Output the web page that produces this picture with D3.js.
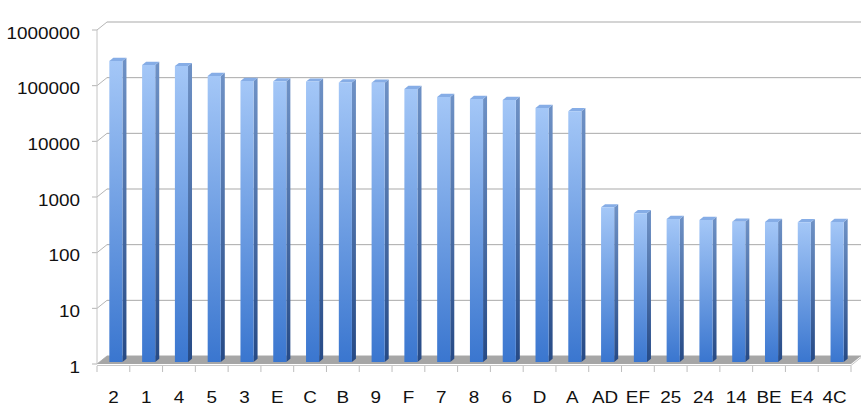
<!DOCTYPE html>
<html>
<head>
<meta charset="utf-8">
<script src="https://cdn.jsdelivr.net/npm/d3@7"></script>
<style>
  body { margin: 0; background: #fff; }
  text { font-family: "Liberation Sans", Arial, sans-serif; fill: #111; }
</style>
</head>
<body>
<svg id="chart" width="867" height="414"></svg>
<script>
// data
const categories = ["2","1","4","5","3","E","C","B","9","F","7","8","6","D","A","AD","EF","25","24","14","BE","E4","4C"];
const values = [255000, 216000, 207000, 137000, 112000, 110000, 109000, 105000, 104000, 80000, 57500, 53000, 51000, 36500, 32000, 600, 470, 370, 355, 330, 328, 325, 328];
const tickValues = [1, 10, 100, 1000, 10000, 100000, 1000000];

const svg = d3.select('#chart');

// depth of the 3d box
const depthX = 10, depthY = 8;
const proj = (x, y, z) => [x + z * depthX, y - z * depthY];

const x = d3.scaleBand().domain(categories).range([97, 851]);
const y = d3.scaleLog().domain([1, 1000000]).range([364, 30]);

const defs = svg.append('defs');
const gFront = defs.append('linearGradient').attr('id', 'gFront')
  .attr('x1', 0).attr('y1', 0).attr('x2', 0).attr('y2', 1);
gFront.append('stop').attr('offset', '0%').attr('stop-color', '#a4c7f7');
gFront.append('stop').attr('offset', '100%').attr('stop-color', '#3a76cf');
const gSide = defs.append('linearGradient').attr('id', 'gSide')
  .attr('x1', 0).attr('y1', 0).attr('x2', 0).attr('y2', 1);
gSide.append('stop').attr('offset', '0%').attr('stop-color', '#6f92c6');
gSide.append('stop').attr('offset', '100%').attr('stop-color', '#264a86');

const line = d3.line();

// back wall gridlines + side wall diagonals
const grid = svg.append('g');
tickValues.forEach(t => {
  const a = proj(x.range()[0], y(t), 1);
  const b = proj(x.range()[1], y(t), 1);
  grid.append('path').attr('d', line([a, b])).attr('stroke', '#a9a9a9').attr('fill', 'none');
  grid.append('path').attr('d', line([[x.range()[0] - 5, y(t)], [x.range()[0], y(t)], a]))
    .attr('stroke', '#b5b5b5').attr('fill', 'none');
});

// front y axis line
svg.append('path').attr('d', line([[97, y(1000000)], [97, y(1)]]))
  .attr('stroke', '#c4c4c4').attr('fill', 'none');

// floor
const f0 = proj(97, y(1), 0), f1 = proj(851, y(1), 0), f2 = proj(851, y(1), 1), f3 = proj(97, y(1), 1);
svg.append('path').attr('d', line([f0, f1, f2, f3]) + 'Z').attr('fill', '#a6a6a6');
svg.append('path').attr('d', line([[97, y(1) + 1.5], [851, y(1) + 1.5], proj(851, y(1) + 1.5, 1)]))
  .attr('stroke', '#c8c8c8').attr('fill', 'none');

// x ticks
svg.append('g').selectAll('line')
  .data(categories.concat(['end']))
  .join('line')
  .attr('x1', (d, i) => 97 + i * x.step()).attr('x2', (d, i) => 97 + i * x.step())
  .attr('y1', y(1) + 2).attr('y2', y(1) + 8)
  .attr('stroke', '#bdbdbd');

// bars
const zf = 0.25, zb = 0.65;
const bw = x.bandwidth() * 0.4;
const bars = svg.append('g').selectAll('g').data(categories).join('g');
bars.each(function (d, i) {
  const g = d3.select(this);
  const cx = x(d) + x.bandwidth() / 2;
  const x0 = cx - bw / 2, x1 = cx + bw / 2;
  const yt = y(values[i]), yb = y(1);
  const A = proj(x0, yt, zf), B = proj(x1, yt, zf), C = proj(x1, yb, zf), D = proj(x0, yb, zf);
  const B2 = proj(x1, yt, zb), C2 = proj(x1, yb, zb), A2 = proj(x0, yt, zb);
  g.append('path').attr('d', line([B, B2, C2, C]) + 'Z').attr('fill', 'url(#gSide)');
  g.append('path').attr('d', line([A, A2, B2, B]) + 'Z').attr('fill', '#86ade6');
  g.append('path').attr('d', line([A, B, C, D]) + 'Z').attr('fill', 'url(#gFront)');
});

// text in the picture is a bit wider than plain Arial
const stretch = 1.18;

// y labels
svg.append('g').selectAll('text').data(tickValues).join('text')
  .attr('transform', d => `translate(80,${y(d)}) scale(${stretch},1)`)
  .attr('dy', '0.55em')
  .attr('text-anchor', 'end').attr('font-size', 16)
  .text(d => d);

// x labels
svg.append('g').selectAll('text').data(categories).join('text')
  .attr('transform', d => `translate(${x(d) + x.bandwidth() / 2},397) scale(${stretch},1)`)
  .attr('dy', '0.36em')
  .attr('text-anchor', 'middle').attr('font-size', 16)
  .text(d => d);
</script>
</body>
</html>
